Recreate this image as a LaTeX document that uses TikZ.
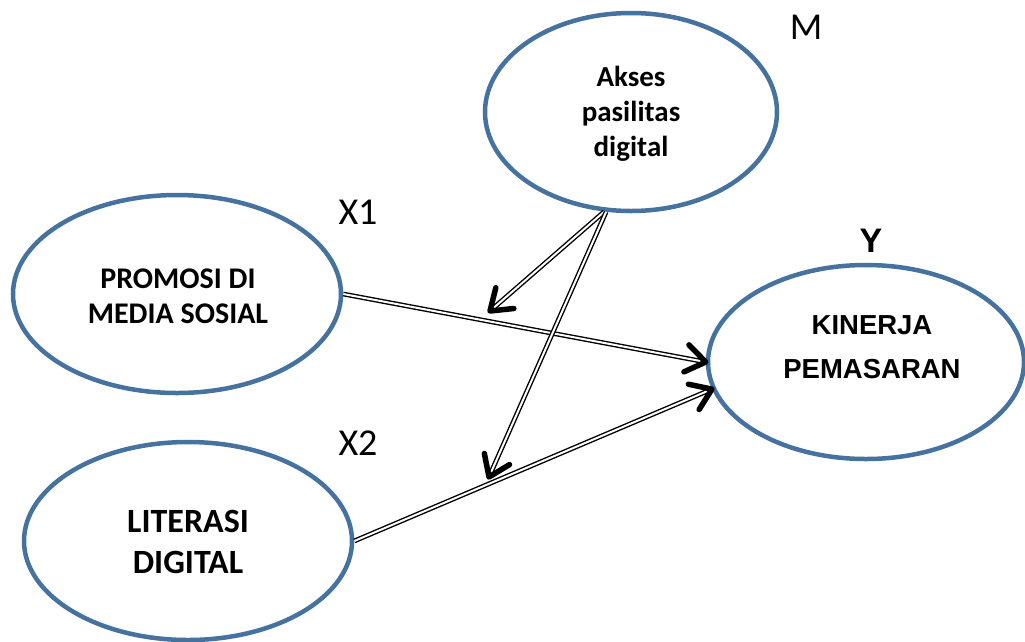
\documentclass[tikz,border=0pt]{standalone}
\usepackage{fontspec}
\setmainfont{Carlito}
\newfontfamily\arialfont{Liberation Sans}
\usetikzlibrary{calc,shapes.geometric}
\definecolor{ellblue}{RGB}{70,114,160}
\tikzset{
  ell/.style={ellipse, draw=ellblue, line width=4.5pt, inner sep=0pt},
  conn/.style={draw=black, double=white, double distance=2pt, line width=1.4pt, shorten >=2pt},
  tipv/.style={draw=black, line width=5.5pt, line cap=round, line join=round},
  lab/.style={font=\fontsize{38}{42}\selectfont}
}
\begin{document}
\begin{tikzpicture}[x=1pt,y=-1pt]
\useasboundingbox (0,0) rectangle (1025,641);
\node[ell, minimum width=292pt, minimum height=198pt] (m) at (631,112) {};
\node[align=center, font=\bfseries\fontsize{29}{35}\selectfont] (mtext) at (631,114) {Akses\\pasilitas\\digital};
\node[ell, minimum width=328pt, minimum height=198pt] (x1) at (177,294) {};
\node[align=center, font=\bfseries\fontsize{30}{35}\selectfont] (x1text) at (178,296) {PROMOSI DI\\MEDIA SOSIAL};
\node[ell, minimum width=328pt, minimum height=198pt] (x2) at (188,541) {};
\node[align=center, font=\bfseries\fontsize{34}{41}\selectfont] (x2text) at (188,542) {LITERASI\\DIGITAL};
\node[ell, minimum width=316pt, minimum height=194pt] (y) at (866,362) {};
\node[align=center, font=\arialfont\bfseries\fontsize{27.5}{44}\selectfont] (ytext) at (872,347) {KINERJA\\PEMASARAN};
\node[lab] (lm) at (806,27) {M};
\node[lab] (lx1) at (358,212) {X1};
\node[lab] (lx2) at (358,443) {X2};
\node[font=\arialfont\bfseries\fontsize{34}{38}\selectfont] (ly) at (871,241) {Y};
\coordinate (t1) at (490,311);
\coordinate (t2) at (489,477);
\coordinate (ya) at (y.west);
\coordinate (yb) at (y.190);
\draw[conn] (x1.east) -- (ya);
\draw[conn] (x2.east) -- (yb);
\draw[conn] (m.255) -- (t1);
\draw[conn] (m.256) -- (t2);
\draw[tipv] ($(ya)!24pt!35:(x1.east)$) -- (ya) -- ($(ya)!24pt!-35:(x1.east)$);
\draw[tipv] ($(yb)!24pt!35:(x2.east)$) -- (yb) -- ($(yb)!24pt!-35:(x2.east)$);
\draw[tipv] ($(t1)!24pt!35:(m.255)$) -- (t1) -- ($(t1)!24pt!-35:(m.255)$);
\draw[tipv] ($(t2)!24pt!35:(m.256)$) -- (t2) -- ($(t2)!24pt!-35:(m.256)$);
\end{tikzpicture}
\end{document}
